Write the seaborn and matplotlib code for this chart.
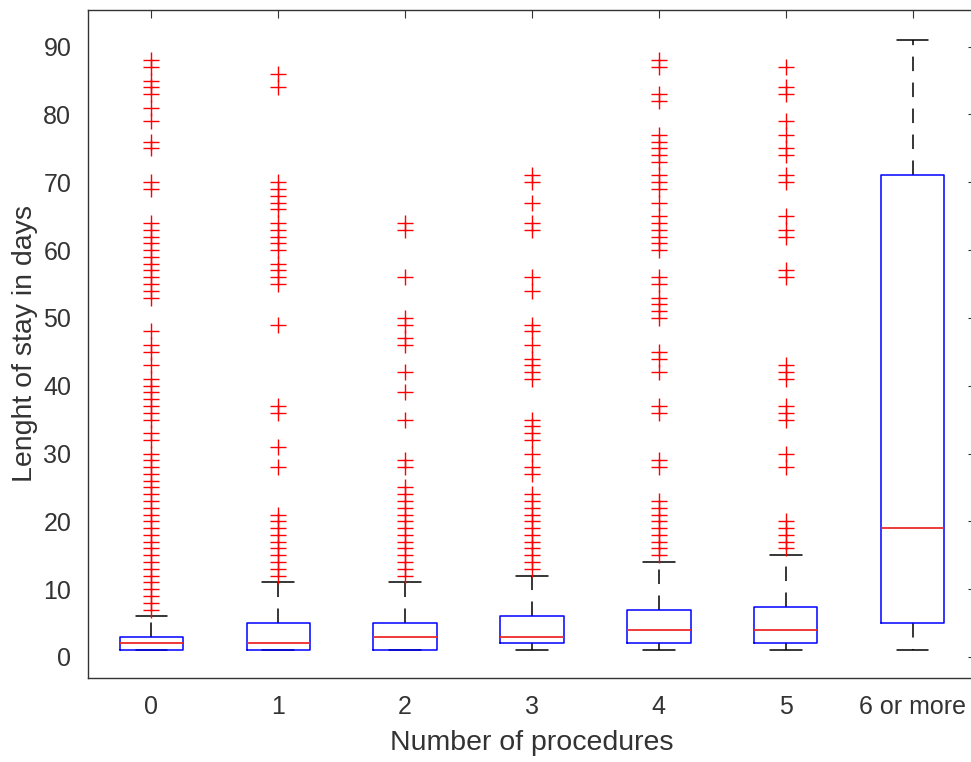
import matplotlib
matplotlib.use("Agg")
import matplotlib.pyplot as plt
import seaborn as sns
import pandas as pd

categories = ["0", "1", "2", "3", "4", "5", "6 or more"]

# box summary (MATLAB style boxplot)
whisker_low = [1, 1, 1, 1, 1, 1, 1]
q1 = [1, 1, 1, 2, 2, 2, 5]
median = [2, 2, 3, 3, 4, 4, 19]
q3 = [3, 5, 5, 6, 7, 7.3, 71]
whisker_high = [6, 11, 11, 12, 14, 15, 91]

# outliers (red +)
out_0 = [7, 8, 9, 10, 11, 12, 13, 14, 15, 16, 17, 18, 19, 20, 21, 22, 23, 24, 25,
         26, 27, 28, 29, 30, 32, 33, 35, 36, 37, 38, 39, 40, 41, 43, 45, 46, 48,
         53, 54, 55, 56, 57, 58, 59, 60, 61, 62, 63, 64, 69, 70, 75, 76, 79, 81,
         83, 84, 85, 87, 88]
out_1 = [12, 13, 14, 15, 16, 17, 18, 19, 20, 21, 28, 31, 36, 37, 49, 55, 56, 57,
         58, 60, 61, 62, 63, 64, 66, 67, 68, 69, 70, 84, 86]
out_2 = [12, 13, 14, 15, 16, 17, 18, 19, 20, 21, 22, 23, 24, 25, 28, 29, 35, 39,
         42, 46, 47, 49, 50, 56, 63, 64]
out_3 = [13, 14, 15, 16, 17, 18, 19, 20, 21, 22, 23, 24, 27, 28, 30, 32, 33, 34,
         35, 41, 42, 43, 44, 46, 48, 49, 54, 56, 63, 64, 67, 70, 71]
out_4 = [15, 16, 17, 18, 19, 20, 21, 22, 23, 28, 29, 36, 37, 42, 44, 45, 50, 51,
         52, 53, 55, 56, 60, 61, 62, 63, 64, 65, 67, 69, 70, 71, 73, 74, 75, 76,
         77, 82, 83, 87, 88]
out_5 = [16, 17, 18, 19, 20, 28, 30, 35, 36, 37, 41, 42, 43, 56, 57, 62, 63, 65,
         70, 71, 74, 75, 77, 79, 83, 84, 87]
out_6 = []

outliers = [out_0, out_1, out_2, out_3, out_4, out_5, out_6]

# five numbers per group -> seaborn computes the same quartiles / whiskers
rows = []
for i, cat in enumerate(categories):
    for v in (whisker_low[i], q1[i], median[i], q3[i], whisker_high[i]):
        rows.append({"procedures": cat, "stay": v})
box_df = pd.DataFrame(rows)

flier_rows = []
for cat, vals in zip(categories, outliers):
    for v in vals:
        flier_rows.append({"procedures": cat, "stay": v})
flier_df = pd.DataFrame(flier_rows)

sns.set_style("white")
plt.rcParams["font.family"] = ["Liberation Sans", "DejaVu Sans"]
axcol = "#333333"

fig = plt.figure(figsize=(9.71, 7.62), dpi=100)
ax = fig.add_axes([88 / 971, 84 / 762, 888 / 971, 668 / 762])

sns.boxplot(
    data=box_df, x="procedures", y="stay", order=categories,
    width=0.5, whis=1.5, showfliers=False, fill=False, ax=ax,
    boxprops=dict(color="#0000ff", linewidth=1.1, zorder=2.5),
    medianprops=dict(color="#ee2a2a", linewidth=1.3, zorder=2.6),
    whiskerprops=dict(color="black", linewidth=1.1, linestyle=(0, (9.5, 7.5)), zorder=1.5),
    capprops=dict(color="black", linewidth=1.1, zorder=1.5),
    capwidths=0.25,
)

sns.stripplot(
    data=flier_df, x="procedures", y="stay", order=categories,
    jitter=False, marker="+", color="red", edgecolor="red",
    size=12, linewidth=1.0, ax=ax,
)

ax.set_xlim(-0.5, 6.5)
ax.set_ylim(-3.1, 95.4)
ax.set_yticks(range(0, 91, 10))
ax.set_xticks(range(len(categories)))
ax.set_xticklabels(categories)

ax.tick_params(direction="in", length=6, width=0.8, top=True, right=True,
               labelsize=18, colors=axcol, pad=12)
for sp in ax.spines.values():
    sp.set_visible(True)
    sp.set_color(axcol)
    sp.set_linewidth(1.0)

ax.set_xlabel("Number of procedures", fontsize=20.5, color=axcol, labelpad=8)
ax.set_ylabel("Lenght of stay in days", fontsize=20.5, color=axcol, labelpad=4)

fig.savefig("out.png", dpi=100)
plt.close(fig)
